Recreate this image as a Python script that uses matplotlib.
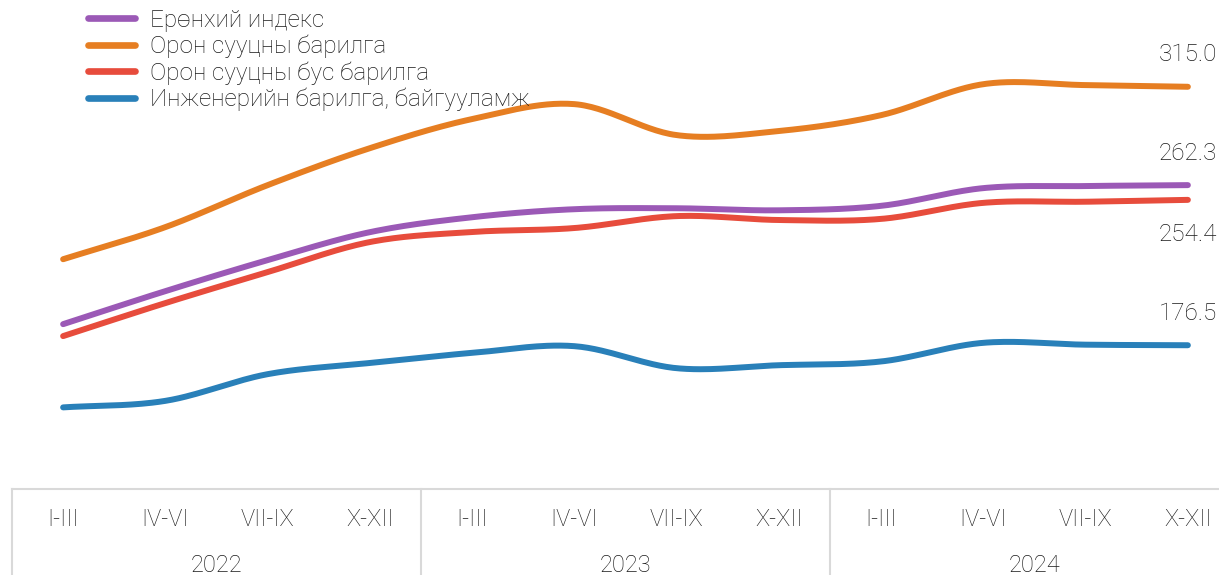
import numpy as np
import matplotlib
matplotlib.use("Agg")
import matplotlib.pyplot as plt

plt.rcParams['font.family'] = ['Roboto', 'DejaVu Sans']

quarters = ['I-III', 'IV-VI', 'VII-IX', 'X-XII'] * 3
years = ['2022', '2023', '2024']

names = ['Ерөнхий индекс', 'Орон сууцны барилга',
         'Орон сууцны бус барилга', 'Инженерийн барилга, байгууламж']
general = [187.8, 205.5, 222.1, 237.1, 245.1, 249.4, 249.9, 248.8, 251.2, 260.7, 261.8, 262.3]
housing = [222.6, 239.8, 262.3, 282.1, 297.7, 305.7, 289.1, 291.3, 299.8, 316.4, 315.9, 315.0]
nonhousing = [181.4, 199.1, 215.7, 231.8, 237.2, 239.3, 245.7, 243.6, 244.2, 252.8, 253.4, 254.4]
engineering = [143.2, 146.7, 161.0, 167.0, 172.4, 176.0, 164.2, 165.8, 167.8, 177.8, 176.8, 176.5]
colors = ['#9B59B6', '#E67E22', '#E74C3C', '#2980B9']


def smooth(y, n=30):
    # catmull-rom like excel smoothed lines
    y = np.asarray(y, float)
    p = np.concatenate([[2 * y[0] - y[1]], y, [2 * y[-1] - y[-2]]])
    xs, ys = [], []
    for i in range(len(y) - 1):
        t = np.linspace(0, 1, n, endpoint=False)
        p0, p1, p2, p3 = p[i], p[i + 1], p[i + 2], p[i + 3]
        v = 0.5 * (2 * p1 + (-p0 + p2) * t + (2 * p0 - 5 * p1 + 4 * p2 - p3) * t ** 2
                   + (-p0 + 3 * p1 - 3 * p2 + p3) * t ** 3)
        xs.append(i + t)
        ys.append(v)
    xs.append([len(y) - 1])
    ys.append([y[-1]])
    return np.concatenate(xs), np.concatenate(ys)


W, H = 1219, 575
fig = plt.figure(figsize=(W / 100, H / 100), dpi=100)
left = 12 / W
width = (1239 - 12) / W
ax = fig.add_axes([left, 87 / H, width, 1 - 87 / H])
cax = fig.add_axes([left, 0, width, 87 / H])

series = [general, housing, nonhousing, engineering]
x = np.arange(len(quarters))
for vals, name, c in zip(series, names, colors):
    sx, sy = smooth(vals)
    ax.plot(sx, sy, color=c, lw=4.3, solid_capstyle='round', label=name)

# end labels
offsets = [23, 23, -25, 23]
for vals, off in zip(series, offsets):
    ax.annotate(f'{vals[-1]:.1f}', (x[-1], vals[-1]), xytext=(0, off),
                textcoords='offset points', ha='center', va='center',
                fontsize=17.5, fontweight='light', color='#1a1a1a')

ax.set_xlim(-0.5, 11.5)
ax.set_ylim(100, 361.5)
ax.axis('off')

leg = ax.legend(loc='upper left', bbox_to_anchor=(88 / W, 1 - 9 / H), bbox_transform=fig.transFigure,
                frameon=False, fontsize=17.5, handlelength=1.95, handletextpad=0.6,
                labelspacing=0.12, borderpad=0, borderaxespad=0)
for t in leg.get_texts():
    t.set_fontweight('light')
    t.set_color('#1a1a1a')
for h in leg.get_lines():
    h.set_linewidth(4.8)

# category axis
cax.set_xlim(-0.5, 11.5)
cax.set_ylim(0, 87)
cax.axis('off')
gc = '#d9d9d9'
cax.plot([-0.5, 11.5], [86, 86], color=gc, lw=1.5, clip_on=False)
for b in [-0.5, 3.5, 7.5]:
    cax.plot([b, b], [0, 86], color=gc, lw=1.5, clip_on=False)
for i, q in enumerate(quarters):
    cax.text(i, 56, q, ha='center', va='center', fontsize=17, fontweight='light', color='#1a1a1a')
for j, yr in enumerate(years):
    cax.text(4 * j + 1.5, 10, yr, ha='center', va='center', fontsize=17, fontweight='light', color='#1a1a1a')

fig.savefig('out.png', dpi=100)
